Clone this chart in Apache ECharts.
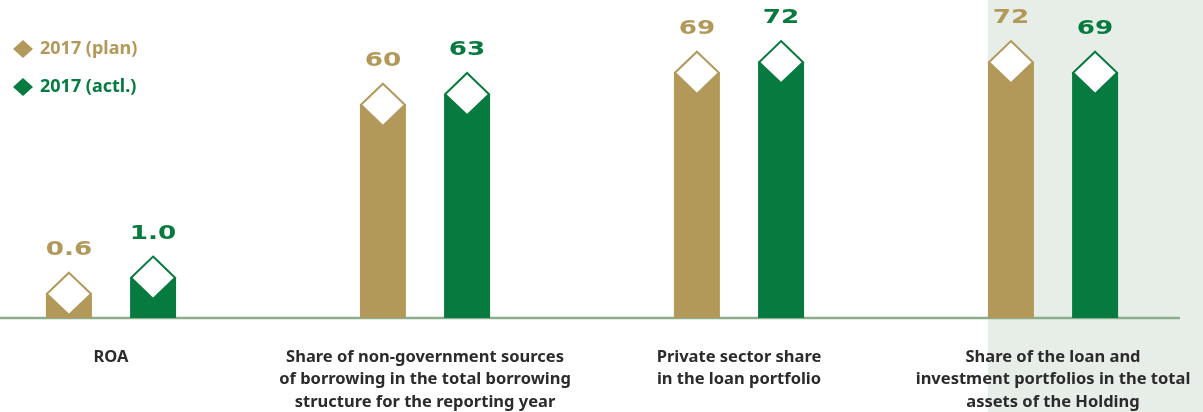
<!DOCTYPE html>
<html>
<head>
<meta charset="utf-8">
<script src="https://cdn.jsdelivr.net/npm/echarts@6/dist/echarts.min.js"></script>
<style>
  html, body { margin: 0; padding: 0; background: #fff; }
  #chart { width: 1203px; height: 412px; }
</style>
</head>
<body>
<div id="chart"></div>
<script>
// Key performance indicators: plan vs. actual for 2017
const categories = [
  'ROA',
  'Share of non-government sources\nof borrowing in the total borrowing\nstructure for the reporting year',
  'Private sector share\nin the loan portfolio',
  'Share of the loan and\ninvestment portfolios in the total\nassets of the Holding'
];
const seriesNames = ['2017 (plan)', '2017 (actl.)'];
const planValues = [0.6, 60, 69, 72];
const actualValues = [1.0, 63, 72, 69];

const GOLD = '#b39959';
const GREEN = '#077b3f';
const TEXT = '#2b2b2b';

// ROA is a ratio, drawn on its own scale; the rest are percentages
const isRatio = (i) => i === 0;

function pick(values, wantRatio) {
  return values.map((v, i) => (isRatio(i) === wantRatio ? [i, v] : [i, null]));
}

function renderBar(side, color, decimals) {
  return function (params, api) {
    const v = api.value(1);
    if (v == null || isNaN(v)) return;
    const idx = api.value(0);
    const band = api.size([1, 0])[0];
    const top = api.coord([idx, v]);
    const base = api.coord([idx, 0]);
    const cx = top[0] + side * band * 0.134;
    const w = band * 0.1465;
    const dh = w * 0.46;
    return {
      type: 'group',
      children: [
        {
          type: 'rect',
          shape: { x: cx - w / 2, y: top[1], width: w, height: base[1] - top[1] },
          style: { fill: color }
        },
        {
          type: 'polygon',
          shape: { points: [[cx, top[1] - dh], [cx + w / 2 - 1, top[1]], [cx, top[1] + dh], [cx - w / 2 + 1, top[1]]] },
          style: { fill: '#ffffff', stroke: color, lineWidth: 2 }
        },
        {
          // wide display digits above each marker
          type: 'text',
          x: cx,
          y: top[1] - 44,
          scaleX: 1.38,
          style: {
            text: v.toFixed(decimals),
            x: 0,
            y: 0,
            align: 'center',
            verticalAlign: 'middle',
            font: 'bold 19px "DejaVu Sans"',
            fill: color
          }
        }
      ]
    };
  };
}

function makeSeries(name, values, side, color) {
  return [
    {
      name: name,
      type: 'custom',
      xAxisIndex: 0,
      yAxisIndex: 0,
      itemStyle: { color: color },
      renderItem: renderBar(side, color, 0),
      data: pick(values, false),
      z: 3
    },
    {
      name: name,
      type: 'custom',
      xAxisIndex: 0,
      yAxisIndex: 1,
      itemStyle: { color: color },
      renderItem: renderBar(side, color, 1),
      data: pick(values, true),
      z: 3
    }
  ];
}

const chart = echarts.init(document.getElementById('chart'), null, { renderer: 'canvas' });

chart.setOption({
  animation: false,
  backgroundColor: '#ffffff',
  grid: { left: -46, right: -7, top: 0, bottom: 94, containLabel: false, outerBoundsMode: 'none' },
  legend: {
    orient: 'vertical',
    left: 8,
    top: 35,
    icon: 'diamond',
    itemWidth: 20,
    itemHeight: 18,
    itemGap: 20,
    selectedMode: false,
    data: [
      { name: seriesNames[0], textStyle: { color: GOLD } },
      { name: seriesNames[1], textStyle: { color: GREEN } }
    ],
    textStyle: {
      fontFamily: '"Noto Sans"',
      fontWeight: 'bold',
      fontSize: 18,
      padding: [0, 0, 0, 2]
    }
  },
  xAxis: {
    type: 'category',
    data: categories,
    boundaryGap: true,
    axisLine: { show: false },
    axisTick: { show: false },
    splitLine: { show: false },
    axisLabel: {
      interval: 0,
      margin: 28,
      verticalAlign: 'top',
      color: TEXT,
      fontFamily: '"Noto Sans"',
      fontWeight: 'bold',
      fontSize: 16.5,
      lineHeight: 22.5
    }
  },
  yAxis: [
    { type: 'value', min: 0, max: 89.5, show: false },
    { type: 'value', min: 0, max: 7.9, show: false }
  ],
  series: [
    ...makeSeries(seriesNames[0], planValues, -1, GOLD),
    ...makeSeries(seriesNames[1], actualValues, 1, GREEN)
  ]
});

// Background highlight behind the last indicator and the zero baseline
const lastIdx = categories.length - 1;
const lastCenter = chart.convertToPixel({ xAxisIndex: 0 }, lastIdx);
const band = chart.convertToPixel({ xAxisIndex: 0 }, 1) - chart.convertToPixel({ xAxisIndex: 0 }, 0);
const zeroY = chart.convertToPixel({ yAxisIndex: 0 }, 0);
const shadeX = Math.round(lastCenter - band * 0.134 - band * 0.1465 / 2);

chart.setOption({
  graphic: [
    {
      type: 'rect',
      z: -10,
      silent: true,
      shape: { x: shadeX, y: 0, width: 1203 - shadeX, height: 412 },
      style: { fill: '#e7eee8' }
    },
    {
      type: 'line',
      z: 1,
      silent: true,
      shape: { x1: 0, y1: zeroY, x2: 1180, y2: zeroY },
      style: { stroke: '#8aad8b', lineWidth: 2.5 }
    }
  ]
});
</script>
</body>
</html>
